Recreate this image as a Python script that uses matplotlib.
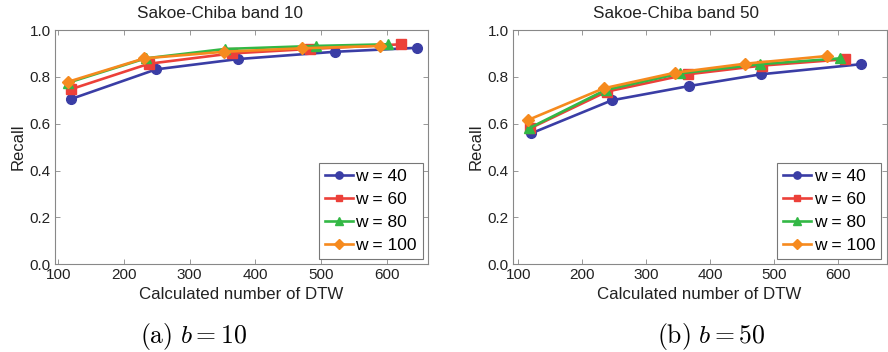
import matplotlib
matplotlib.use("Agg")
import matplotlib.pyplot as plt
from matplotlib import font_manager

names = {f.name for f in font_manager.fontManager.ttflist}
fam = "Liberation Sans Narrow" if "Liberation Sans Narrow" in names else "Liberation Sans"
plt.rcParams['font.family'] = [fam, 'DejaVu Sans']
plt.rcParams['mathtext.fontset'] = 'cm'

# Data
series_labels = ["w = 40", "w = 60", "w = 80", "w = 100"]
x_ticks = [100, 200, 300, 400, 500, 600]
y_ticks = [0.0, 0.2, 0.4, 0.6, 0.8, 1.0]

# Panel (a): Sakoe-Chiba band 10
a_x40 = [119, 249, 374, 521, 647]
a_y40 = [0.705, 0.832, 0.876, 0.907, 0.924]
a_x60 = [119, 238, 364, 483, 622]
a_y60 = [0.747, 0.856, 0.900, 0.919, 0.939]
a_x80 = [115, 233, 354, 492, 602]
a_y80 = [0.775, 0.879, 0.919, 0.932, 0.939]
a_x100 = [115, 231, 352, 471, 590]
a_y100 = [0.779, 0.879, 0.907, 0.922, 0.932]

# Panel (b): Sakoe-Chiba band 50
b_x40 = [120, 246, 367, 479, 635]
b_y40 = [0.559, 0.700, 0.761, 0.811, 0.854]
b_x60 = [118, 238, 365, 480, 610]
b_y60 = [0.580, 0.737, 0.811, 0.848, 0.875]
b_x80 = [116, 236, 353, 477, 603]
b_y80 = [0.580, 0.744, 0.815, 0.854, 0.879]
b_x100 = [115, 233, 345, 454, 582]
b_y100 = [0.616, 0.751, 0.818, 0.856, 0.889]

colors = ["#3A3DA5", "#EC4039", "#33B845", "#F68A1E"]
markers = ["o", "s", "^", "D"]
msizes = [7, 6.5, 7.5, 6.5]

fig = plt.figure(figsize=(8.88, 3.52), dpi=100)
ax1 = fig.add_axes([55/888, 1-264.3/352, (428-55)/888, (264.3-30)/352])
ax2 = fig.add_axes([512.7/888, 1-264.3/352, (886.5-512.7)/888, (264.3-30)/352])

panels = [
    (ax1, [(a_x40, a_y40), (a_x60, a_y60), (a_x80, a_y80), (a_x100, a_y100)],
     "Sakoe-Chiba band 10", (95, 663), 0.442),
    (ax2, [(b_x40, b_y40), (b_x60, b_y60), (b_x80, b_y80), (b_x100, b_y100)],
     "Sakoe-Chiba band 50", (91, 675), 0.436),
]

for ax, data, title, xl, tx in panels:
    for (xs, ys), c, m, ms, lab in zip(data, colors, markers, msizes, series_labels):
        ax.plot(xs, ys, color=c, marker=m, markersize=ms, linewidth=1.9,
                markeredgecolor=c, label=lab)
    ax.set_xlim(*xl)
    ax.set_ylim(0, 1.0)
    ax.set_xticks(x_ticks)
    ax.set_yticks(y_ticks)
    ax.set_yticklabels([f"{v:.1f}" for v in y_ticks])
    ax.tick_params(direction='in', top=True, right=True, length=3.5, width=0.6,
                   colors='#888888', labelcolor='#222222', labelsize=11, pad=3)
    for s in ax.spines.values():
        s.set_color('#888888')
        s.set_linewidth(0.8)
    ax.set_title(title, fontsize=12.3, color='#222222', pad=8.5, x=tx)
    ax.set_xlabel("Calculated number of DTW", fontsize=12.2, color='#222222', labelpad=3)
    ax.set_ylabel("Recall", fontsize=12, color='#222222', labelpad=3)
    leg = ax.legend(loc='lower right', fontsize=12.5, handlelength=1.6, handletextpad=0.15,
                    borderpad=0.35, labelspacing=0.45, fancybox=False, framealpha=1,
                    borderaxespad=0.3, markerscale=0.75)
    leg.get_frame().set_edgecolor('#777777')
    leg.get_frame().set_linewidth(0.8)

fig.text(193.7/888, 1-337/352, r"$\mathrm{(a)}\ b = 10$", ha='center', va='center', fontsize=18.5)
fig.text(711/888, 1-337/352, r"$\mathrm{(b)}\ b = 50$", ha='center', va='center', fontsize=18.5)

fig.savefig("out.png", dpi=100)
